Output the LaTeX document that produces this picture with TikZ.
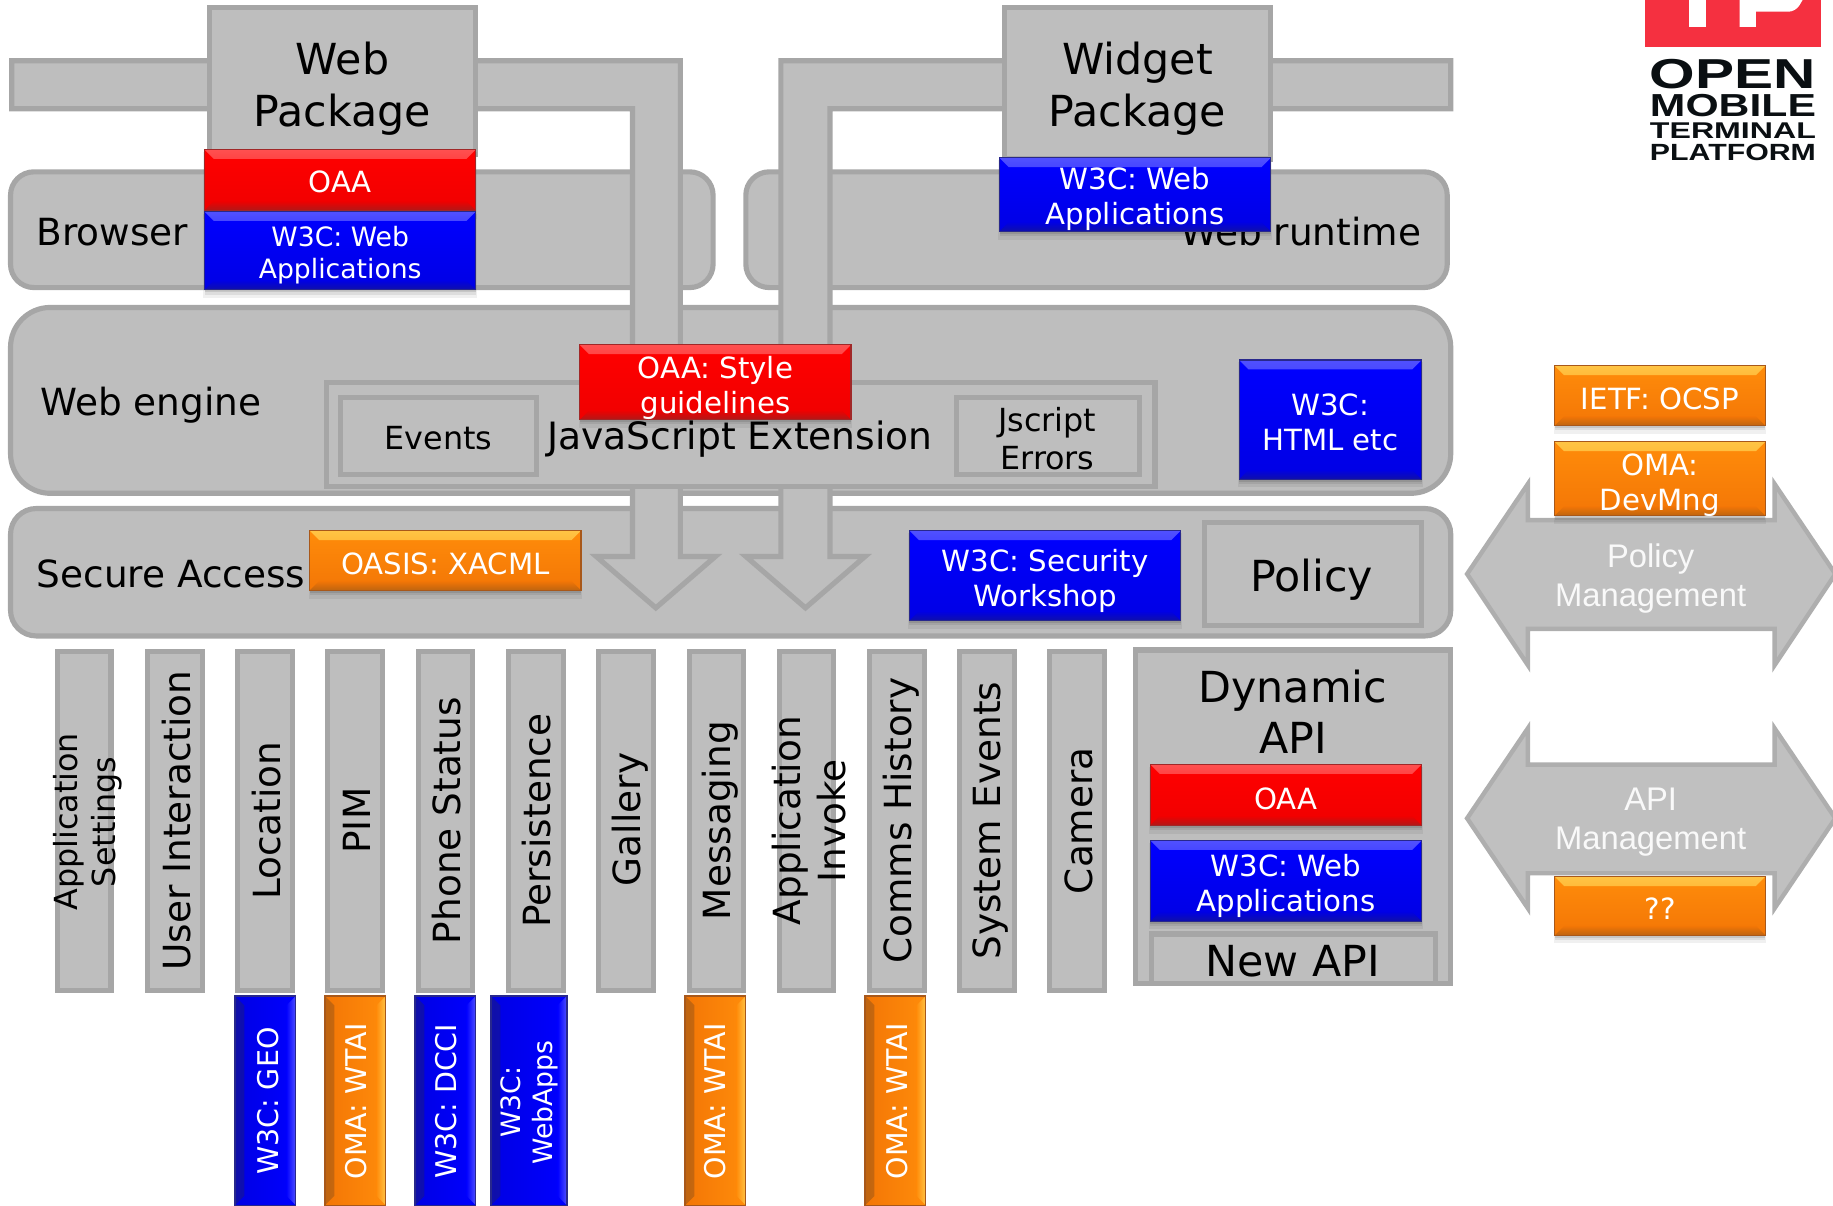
\documentclass[tikz,border=0pt]{standalone}
\usepackage{fontspec}
\usepackage{graphicx}
\setmainfont{DejaVu Sans}
\newfontfamily\logofont{Liberation Sans}
\newfontfamily\mgmtfont{Liberation Sans}
\definecolor{gfill}{HTML}{BEBEBE}
\definecolor{gline}{HTML}{A6A6A6}
\definecolor{afill}{HTML}{C0C0C0}
\definecolor{aline}{HTML}{AEAEAE}
\definecolor{logored}{HTML}{F53040}
\definecolor{logoink}{HTML}{0A0F12}
\definecolor{rA}{HTML}{FF0000}\definecolor{rB}{HTML}{F00000}\definecolor{rT}{HTML}{FF5050}\definecolor{rD}{HTML}{B01818}\definecolor{rE}{HTML}{A02828}
\definecolor{bA}{HTML}{0000FF}\definecolor{bB}{HTML}{0000E4}\definecolor{bT}{HTML}{5050FF}\definecolor{bD}{HTML}{1010A8}\definecolor{bE}{HTML}{28288C}
\definecolor{oA}{HTML}{FF8C0A}\definecolor{oB}{HTML}{F37606}\definecolor{oT}{HTML}{FFC444}\definecolor{oD}{HTML}{BE6410}\definecolor{oE}{HTML}{A8581A}
\newcommand{\fs}[1]{\fontsize{#1}{\fpeval{1.2*#1}}\selectfont}
\def\ppb{path picture bounding box}
\tikzset{
  graybox/.style={draw=gline,fill=gfill,line width=2.2pt,rectangle,inner sep=0pt,outer sep=0pt},
  roundrow/.style={graybox,rounded corners=#1},
  flowpath/.style={draw=gline,fill=gfill,line width=2.2pt,miter limit=10},
  mgmtpath/.style={draw=aline,fill=afill,line width=1.9pt},
  lab/.style={font=\fs{#1},text=black,align=center,inner sep=0pt},
  wlab/.style={font=\fs{#1},text=white,align=center,inner sep=0pt},
  mlab/.style={font={\mgmtfont\fs{14}},text=white!90!gfill,align=center,inner sep=0pt},
  hbevel/.style n args={4}{path picture={
    \shade[top color=#1,bottom color=#2] (\ppb.north west)--(\ppb.north east)--([xshift=-4pt,yshift=-4pt]\ppb.north east)--([xshift=4pt,yshift=-4pt]\ppb.north west)--cycle;
    \shade[top color=#3,bottom color=#4] (\ppb.south west)--(\ppb.south east)--([xshift=-4pt,yshift=4pt]\ppb.south east)--([xshift=4pt,yshift=4pt]\ppb.south west)--cycle;
  }},
  vbevel/.style n args={4}{path picture={
    \shade[left color=#1,right color=#2] (\ppb.north west)--(\ppb.south west)--([xshift=4pt,yshift=4pt]\ppb.south west)--([xshift=4pt,yshift=-4pt]\ppb.north west)--cycle;
    \shade[left color=#3,right color=#4] (\ppb.north east)--(\ppb.south east)--([xshift=-4pt,yshift=4pt]\ppb.south east)--([xshift=-4pt,yshift=-4pt]\ppb.north east)--cycle;
  }},
  hglossR/.style={draw=rE,line width=.5pt,top color=rA,bottom color=rB,hbevel={rT}{rA}{rB}{rD}},
  hglossB/.style={draw=bE,line width=.5pt,top color=bA,bottom color=bB,hbevel={bT}{bA}{bB}{bD}},
  hglossO/.style={draw=oE,line width=.5pt,top color=oA,bottom color=oB,hbevel={oT}{oA}{oB}{oD}},
  vglossB/.style={draw=bE,line width=.5pt,left color=bB,right color=bA,vbevel={bD}{bB}{bA}{bT}},
  vglossO/.style={draw=oE,line width=.5pt,left color=oB,right color=oA,vbevel={oD}{oB}{oA}{oT}},
}
% #1 name, #2-#5 x1 y1 x2 y2, #6 style
\newcommand{\plainbox}[6]{%
  \pgfmathsetmacro\gcx{(#2+#4)/2}\pgfmathsetmacro\gcy{(#3+#5)/2}%
  \pgfmathsetmacro\gw{(#4-(#2))*0.5}\pgfmathsetmacro\gh{(#5-(#3))*0.5}%
  \node[#6,minimum width=\gw pt,minimum height=\gh pt,inner sep=0pt,outer sep=0pt] (#1) at (\gcx,\gcy) {};}
\newcommand{\glossshadow}[4]{%
  \fill[black,opacity=.06] (#1-1,#2+2) rectangle (#3+1,#4+7);
  \fill[black,opacity=.08] (#1,#2+2) rectangle (#3,#4+4);
  \fill[black,opacity=.1] (#1,#2+2) rectangle (#3,#4+2);}
% #1 name, #2-#5 coords, #6 colour style, #7 font size, #8 text centre y, #9 text
\newcommand{\glossy}[9]{%
  \glossshadow{#2}{#3}{#4}{#5}%
  \plainbox{#1}{#2}{#3}{#4}{#5}{#6}%
  \node[wlab=#7] (#1t) at (\gcx,#8) {#9};}
% vertical gray bar: name, x1, x2, size, text x, text y, text
\newcommand{\vbartext}[7]{%
  \plainbox{#1}{#2+2}{557}{#3-2}{847.5}{graybox}%
  \node[lab=#4,rotate=90] (#1t) at (#5,#6) {#7};}
% vertical glossy tab
\newcommand{\vtab}[6]{%
  \plainbox{#1}{#2}{852}{#3}{1031}{#4}%
  \node[wlab=12.2,rotate=90] (#1t) at (#5,942) {#6};}
\begin{document}
\begin{tikzpicture}[x=0.5pt,y=-0.5pt]
\useasboundingbox (0,0) rectangle (1568,1031.6);

% rows
\plainbox{browser}{9}{147}{610}{246}{roundrow=10pt}
\plainbox{runtime}{638}{147}{1238}{246}{roundrow=10pt}
\plainbox{engine}{9}{263}{1241}{422}{roundrow=17pt}
\plainbox{secure}{9}{435}{1241}{544}{roundrow=11pt}
\node[lab=16,anchor=west] (browsert) at (31,199) {Browser};
\node[lab=16,anchor=east] (runtimet) at (1216,198) {Web runtime};
\node[lab=16,anchor=west] (enginet) at (34,347) {Web engine};
\node[lab=16,anchor=west] (securet) at (31,491) {Secure Access};

% flow arrows
\draw[flowpath] (10,52) -- (582,52) -- (582,476) -- (612,476) -- (561,520) -- (510,476) -- (541,476) -- (541,93) -- (10,93) -- cycle;
\draw[flowpath] (1241,52) -- (668,52) -- (668,476) -- (638,476) -- (689,520) -- (740,476) -- (710,476) -- (710,93) -- (1241,93) -- cycle;

% packages
\plainbox{webpkg}{179.5}{6.5}{407}{132}{graybox}
\node[lab=18.3] (webpkgt) at (293,76) {Web\\Package};
\plainbox{widgetpkg}{859.5}{6.5}{1087}{136}{graybox}
\node[lab=18.3] (widgetpkgt) at (973,76) {Widget\\Package};

% JavaScript extension
\plainbox{jsext}{279}{327}{988}{416}{graybox}
\node[lab=16.1] (jsextt) at (633,376) {JavaScript Extension};
\plainbox{events}{291}{340}{459}{406}{graybox}
\node[lab=13.6] (eventst) at (375,375) {Events};
\plainbox{jerrors}{818}{340}{975}{406}{graybox}
\node[lab=13.6] (jerrorst) at (896,375) {Jscript\\Errors};
\plainbox{policy}{1030}{447}{1216}{535}{graybox}
\node[lab=18.3] (policyt) at (1122,496) {Policy};

% management arrows
\draw[mgmtpath] (1255,491) -- (1307,414) -- (1307,445) -- (1518,445) -- (1518,414) -- (1570,491) -- (1518,569) -- (1518,538) -- (1307,538) -- (1307,569) -- cycle;
\draw[mgmtpath] (1255,700) -- (1307,623) -- (1307,654) -- (1518,654) -- (1518,623) -- (1570,700) -- (1518,777) -- (1518,747) -- (1307,747) -- (1307,777) -- cycle;
\node[mlab] (polmgmt) at (1412,495) {Policy\\Management};
\node[mlab] (apimgmt) at (1412,703) {API\\Management};

% standards boxes
\glossy{oaabrowser}{175}{128}{407}{180}{hglossR}{12.5}{156}{OAA}
\glossy{w3cbrowser}{175}{181}{407}{248}{hglossB}{11.4}{218}{W3C: Web\\Applications}
\glossy{w3cwidget}{855}{135}{1087}{198}{hglossB}{12.5}{170}{W3C: Web\\Applications}
\glossy{oaastyle}{496}{295}{728}{359}{hglossR}{12.5}{332}{OAA: Style\\guidelines}
\glossy{w3chtml}{1060}{308}{1216}{410}{hglossB}{12.5}{361}{W3C:\\HTML etc}
\glossy{oasis}{265}{454}{497}{505}{hglossO}{12.5}{482}{OASIS: XACML}
\glossy{w3csec}{778}{454}{1010}{531}{hglossB}{12.5}{497}{W3C: Security\\Workshop}
\glossy{ietf}{1330}{313}{1510}{364}{hglossO}{12.5}{341}{IETF: OCSP}
\glossy{omadm}{1330}{378}{1510}{441}{hglossO}{12.5}{415}{OMA:\\DevMng}
\glossy{unknown}{1330}{750}{1510}{800}{hglossO}{12.5}{777}{??}

% API bars
\vbartext{appset}{47}{97}{13.6}{75}{703}{Application\\Settings}
\vbartext{userint}{124}{175}{16}{151}{702}{User Interaction}
\vbartext{location}{201}{252}{16}{228}{702}{Location}
\vbartext{pim}{278}{329}{16}{305}{702}{PIM}
\vbartext{phone}{356}{406}{16}{382}{702}{Phone Status}
\vbartext{persist}{433}{484}{16}{459}{702}{Persistence}
\vbartext{gallery}{510}{561}{16}{539}{701}{Gallery}
\vbartext{messaging}{588}{638}{16}{616}{702}{Messaging}
\vbartext{appinv}{665}{715}{16}{692}{702}{Application\\Invoke}
\vbartext{comms}{742}{793}{16}{771}{702}{Comms History}
\vbartext{sysev}{819}{870}{16}{847}{702}{System Events}
\vbartext{camera}{896}{947}{16}{923}{702}{Camera}

% dynamic API
\plainbox{dynapi}{971}{556}{1241}{841}{graybox}
\node[lab=18.3] (dynapit) at (1106,609) {Dynamic\\API};
\glossy{oaadyn}{984}{654}{1216}{706}{hglossR}{12.5}{683}{OAA}
\glossy{w3cdyn}{984}{719}{1216}{788}{hglossB}{12.5}{758}{W3C: Web\\Applications}
\plainbox{newapi}{985}{799}{1228}{841}{graybox}
\node[lab=18.3] (newapit) at (1106,822) {New API};

% tabs
\vtab{geo}{201}{253}{vglossB}{229}{W3C: GEO}
\vtab{wtaia}{278}{330}{vglossO}{305}{OMA: WTAI}
\vtab{dcci}{355}{407}{vglossB}{382}{W3C: DCCI}
\plainbox{webapps}{420}{852}{485}{1031}{vglossB}
\node[wlab=11.4,rotate=90] (webappst) at (453,943) {W3C:\\WebApps};
\vtab{wtaib}{586}{638}{vglossO}{612}{OMA: WTAI}
\vtab{wtaic}{740}{792}{vglossO}{767}{OMA: WTAI}

% logo
\fill[logored] (1407,0) rectangle (1558,40);
\fill[white] (1445,0) rectangle (1459,23);
\fill[white] (1488,0) -- (1542,0) [rounded corners=3pt] -- (1536,10) [sharp corners] -- (1502,10) -- (1502,23) -- (1488,23) -- cycle;
\node[inner sep=0pt,anchor=north west,text=logoink] (logoa) at (1411,50) {\resizebox{71pt}{12.5pt}{\logofont\bfseries OPEN}};
\node[inner sep=0pt,anchor=north west,text=logoink] (logob) at (1411,80) {\resizebox{71pt}{9.5pt}{\logofont\bfseries MOBILE}};
\node[inner sep=0pt,anchor=north west,text=logoink] (logoc) at (1411,105) {\resizebox{71pt}{6.7pt}{\logofont\bfseries TERMINAL}};
\node[inner sep=0pt,anchor=north west,text=logoink] (logod) at (1411,123) {\resizebox{71pt}{7pt}{\logofont\bfseries PLATFORM}};
\end{tikzpicture}
\end{document}
